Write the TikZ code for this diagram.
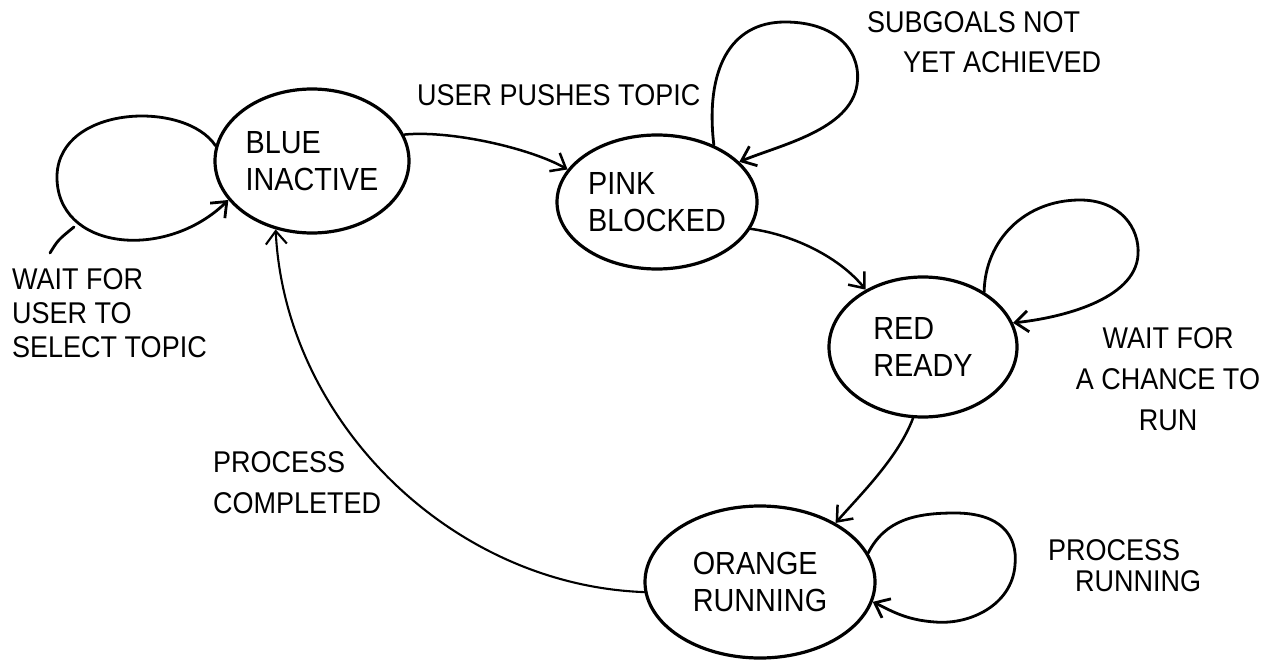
\documentclass[tikz,border=0pt]{standalone}
\usepackage{fontspec}
\newfontfamily\hand{Liberation Sans}[FakeStretch=0.9]
\usetikzlibrary{shapes.geometric,arrows.meta}

\begin{document}
\begin{tikzpicture}[x=1pt,y=-1pt,
  state/.style={draw, ellipse, line width=3.2pt, inner sep=0pt, align=left,
    font={\hand\fontsize{32}{37}\selectfont}},
  lbl/.style={inner sep=0pt, align=left, font={\hand\fontsize{30}{#1}\selectfont}},
  lbl/.default=36,
  tip/.style={-{Straight Barb[length=13pt,width=21pt]}},
  edge/.style={line width=2.5pt, line cap=round, line join=round, tip},
  loopline/.style={line width=2.8pt, line cap=round, line join=round}]

\useasboundingbox (0,0) rectangle (1279,660);

% states
\node[state, minimum width=194pt, minimum height=144pt] (blue)   at (312,161) {BLUE\\INACTIVE};
\node[state, minimum width=200pt, minimum height=134pt] (pink)   at (657,202) {PINK\\BLOCKED};
\node[state, minimum width=188pt, minimum height=140pt] (red)    at (923,347) {RED\\READY};
\node[state, minimum width=230pt, minimum height=152pt] (orange) at (760,582) {ORANGE\\RUNNING};

% labels
\node[lbl, anchor=north west] (pushlbl) at (417,84) {USER PUSHES TOPIC};
\node[lbl=40, anchor=north west] (sublbl) at (867,11) {SUBGOALS NOT\\\hspace*{36pt}YET ACHIEVED};
\node[lbl=34, anchor=north west] (waitlbl) at (12,268) {WAIT FOR\\USER TO\\SELECT TOPIC};
\node[lbl=41, anchor=north, align=center] (chancelbl) at (1168,327) {WAIT FOR\\A CHANCE TO\\RUN};
\node[lbl=41, anchor=north west] (donelbl) at (213,451) {PROCESS\\COMPLETED};
\node[lbl=31, anchor=north west] (runlbl) at (1048,539) {PROCESS\\\hspace*{27pt}RUNNING};

% transitions between states
\draw[edge] (blue.16) .. controls (450,130) and (530,148) .. (pink.160);
\draw[edge] (pink.-16) .. controls (795,235) and (840,258) .. (red.135);
\draw[edge] (red.262) .. controls (898,458) and (860,495) .. (orange.38);
\draw[edge, line width=2.1pt] (orange.185) .. controls (450,585) and (285,420) .. (blue.242);

% self loops
\draw[loopline, tip]
  (blue.171) .. controls (185,100) and (60,105) .. (57,175)
  .. controls (55,250) and (165,262) .. (blue.205);
\coordinate (waittail) at (50,253);
\coordinate (waitjoin) at (74,227);
\draw[loopline] (waittail) .. controls (58,240) .. (waitjoin);

\draw[loopline, tip]
  (pink.45) .. controls (705,70) and (730,22) .. (785,22)
  .. controls (840,22) and (862,55) .. (857,85)
  .. controls (850,130) and (780,145) .. (pink.26);

\draw[loopline, tip]
  (red.42) .. controls (985,240) and (1025,200) .. (1080,200)
  .. controls (1120,200) and (1140,228) .. (1138,255)
  .. controls (1135,300) and (1060,318) .. (red.15);

\draw[loopline, tip]
  (orange.15) .. controls (885,520) and (915,513) .. (955,513)
  .. controls (1000,513) and (1018,535) .. (1015,565)
  .. controls (1012,605) and (970,625) .. (935,622)
  .. controls (905,620) and (890,610) .. (orange.-10);

\end{tikzpicture}
\end{document}
